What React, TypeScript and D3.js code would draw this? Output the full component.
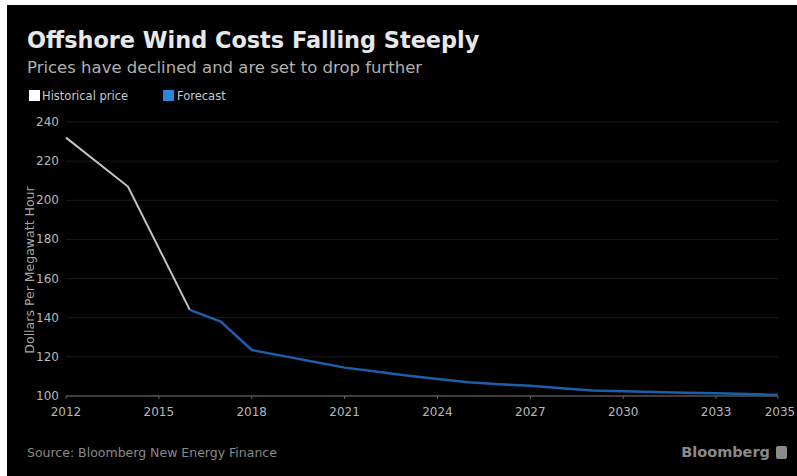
import React from "react";
import * as d3 from "d3";

const histYears = [2012, 2014, 2016];
const histValues = [232, 207, 144];
const fcYears = [2016, 2017, 2018, 2019, 2020, 2021, 2022, 2023, 2024, 2025, 2026, 2027, 2028, 2029, 2030, 2031, 2032, 2033, 2034, 2035];
const fcValues = [144, 138, 123.5, 120.5, 117.5, 114.5, 112.5, 110.5, 108.7, 107, 106, 105.2, 104, 102.8, 102.4, 102, 101.7, 101.4, 101, 100.5];
const xTicks = [2012, 2015, 2018, 2021, 2024, 2027, 2030, 2033, 2035];
const yTicks = [100, 120, 140, 160, 180, 200, 220, 240];

const W = 797, H = 476;
const FONT = "'DejaVu Sans', Verdana, sans-serif";

export default function App() {
  const x = d3.scaleLinear().domain([2012, 2035]).range([66, 778]);
  const y = d3.scaleLinear().domain([100, 240]).range([396, 122]);
  const line = d3.line<[number, number]>().x(d => x(d[0])).y(d => y(d[1]));
  const hist = histYears.map((yr, i) => [yr, histValues[i]] as [number, number]);
  const fc = fcYears.map((yr, i) => [yr, fcValues[i]] as [number, number]);
  return (
    <svg width={W} height={H} style={{ position: "fixed", left: 0, top: 0 }} fontFamily={FONT}>
      <rect x={0} y={0} width={W} height={H} fill="#fff" />
      <rect x={7} y={5} width={W - 7} height={H - 5} fill="#000" />
      <text x={27} y={48} fill="#e8e8e8" fontSize={22.4} fontWeight="bold">Offshore Wind Costs Falling Steeply</text>
      <text x={27} y={73} fill="#b0b0b0" fontSize={16.5}>Prices have declined and are set to drop further</text>
      <rect x={29} y={90} width={11} height={11} fill="#fff" />
      <text x={42} y={100} fill="#c8c8c8" fontSize={11.5}>Historical price</text>
      <rect x={163} y={90} width={11} height={11} fill="#2b86e0" />
      <text x={177} y={100} fill="#c8c8c8" fontSize={11.5}>Forecast</text>
      {yTicks.map(t => (
        <g key={t}>
          {t !== 100 && <line x1={66} x2={778} y1={y(t)} y2={y(t)} stroke="#1a1a1a" strokeWidth={1} />}
          <text x={59} y={y(t) + 4} textAnchor="end" fill="#b8b8b8" fontSize={12}>{t}</text>
        </g>
      ))}
      <line x1={66} x2={778} y1={y(100)} y2={y(100)} stroke="#555" strokeWidth={1.5} />
      {xTicks.map(t => (
        <g key={t}>
          <line x1={x(t)} x2={x(t)} y1={y(100)} y2={y(100) + 3} stroke="#666" />
          <text x={t === 2035 ? x(t) + 2 : x(t)} y={416} textAnchor="middle" fill="#b8b8b8" fontSize={12}>{t}</text>
        </g>
      ))}
      <text transform={`translate(34,270) rotate(-90)`} textAnchor="middle" fill="#a8a8a8" fontSize={12.5}>Dollars Per Megawatt Hour</text>
      <path d={line(hist) || ""} fill="none" stroke="#c4c4c4" strokeWidth={2} />
      <path d={line(fc) || ""} fill="none" stroke="#1d5ea8" strokeWidth={2.5} />
      <text x={27} y={457} fill="#8a8a8a" fontSize={12.5}>Source: Bloomberg New Energy Finance</text>
      <text x={770} y={457} textAnchor="end" fill="#8a8a8a" fontSize={14.5} fontWeight="bold">Bloomberg</text>
      <rect x={776} y={446} width={11} height={13} rx={2} fill="#8a8a8a" />
    </svg>
  );
}
